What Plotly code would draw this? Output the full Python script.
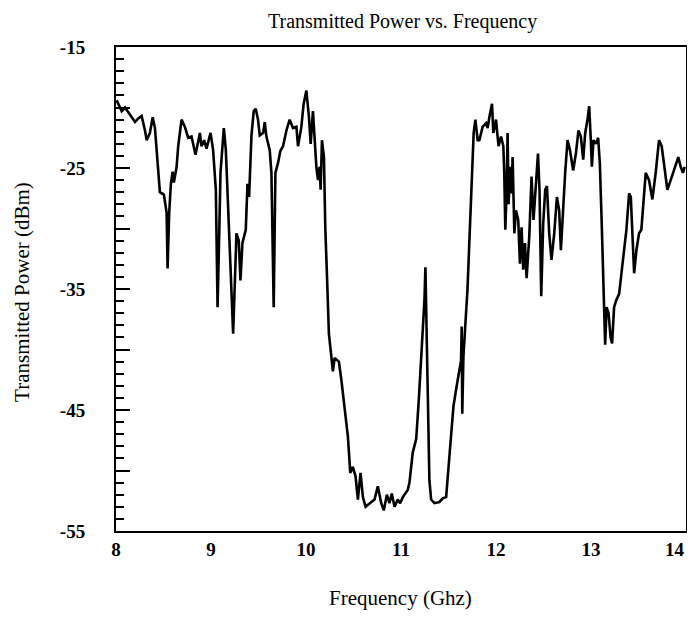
import plotly.graph_objects as go

# Frequency (GHz) and transmitted power (dBm)
freq_ghz = [
    8.007, 8.060, 8.095, 8.147, 8.200, 8.234, 8.270, 8.305, 8.323, 8.357,
    8.386, 8.410, 8.444, 8.462, 8.504, 8.533, 8.543, 8.560, 8.578, 8.596,
    8.609, 8.638, 8.655, 8.690, 8.725, 8.760, 8.795, 8.812, 8.837, 8.883,
    8.900, 8.928, 8.953, 8.995, 9.022, 9.051, 9.069, 9.085, 9.100, 9.135,
    9.156, 9.180, 9.208, 9.233, 9.268, 9.292, 9.310, 9.331, 9.366, 9.384,
    9.401, 9.426, 9.450, 9.471, 9.495, 9.513, 9.548, 9.566, 9.583, 9.618,
    9.636, 9.660, 9.678, 9.705, 9.730, 9.758, 9.794, 9.828, 9.863, 9.899, 9.916,
    9.951, 9.975, 10.004, 10.031, 10.049, 10.073, 10.091, 10.109, 10.126, 10.144,
    10.154, 10.168, 10.189, 10.203, 10.220, 10.241, 10.267, 10.283, 10.301, 10.346,
    10.372, 10.406, 10.441, 10.466, 10.493, 10.522, 10.546, 10.574, 10.599, 10.627,
    10.669, 10.721, 10.756, 10.792, 10.819, 10.851, 10.879, 10.903, 10.932, 10.966,
    10.991, 11.019, 11.071, 11.089, 11.124, 11.160, 11.187, 11.212, 11.229, 11.247,
    11.257, 11.271, 11.281, 11.299, 11.317, 11.352, 11.404, 11.439, 11.475, 11.492,
    11.527, 11.552, 11.580, 11.607, 11.632, 11.639, 11.645, 11.657, 11.678, 11.700,
    11.720, 11.738, 11.752, 11.765, 11.783, 11.807, 11.825, 11.859, 11.895, 11.912,
    11.930, 11.958, 11.972, 12.000, 12.017, 12.027, 12.053, 12.077, 12.087, 12.098,
    12.112, 12.122, 12.133, 12.147, 12.164, 12.175, 12.193, 12.210, 12.234, 12.252,
    12.269, 12.287, 12.305, 12.322, 12.350, 12.374, 12.395, 12.421, 12.442, 12.458,
    12.476, 12.497, 12.518, 12.536, 12.560, 12.584, 12.613, 12.641, 12.665, 12.683,
    12.707, 12.728, 12.753, 12.778, 12.812, 12.841, 12.868, 12.893, 12.918, 12.939,
    12.963, 12.981, 12.998, 13.009, 13.026, 13.051, 13.075, 13.093, 13.114, 13.131,
    13.149, 13.164, 13.185, 13.206, 13.222, 13.243, 13.267, 13.296, 13.324, 13.348,
    13.373, 13.401, 13.419, 13.443, 13.454, 13.478, 13.506, 13.530, 13.551, 13.576,
    13.611, 13.646, 13.681, 13.716, 13.744, 13.769, 13.804, 13.839, 13.874, 13.919,
    13.944, 13.968, 13.986,
]

power_dbm = [
    -19.4, -20.3, -20.0, -20.6, -21.2, -20.9, -20.7, -21.9, -22.7, -22.1,
    -20.8, -21.7, -24.9, -27.0, -27.2, -28.7, -33.3, -28.7, -26.3, -25.3,
    -26.2, -24.9, -23.2, -21.0, -21.6, -22.5, -22.4, -23.1, -23.9, -22.1,
    -23.2, -22.7, -23.4, -22.1, -23.5, -26.8, -36.5, -31.0, -25.4, -21.7,
    -23.5, -28.2, -33.7, -38.7, -30.4, -31.0, -34.3, -31.2, -30.1, -26.3,
    -27.4, -22.3, -20.3, -20.1, -21.0, -22.3, -22.1, -21.2, -22.4, -23.5,
    -25.4, -36.5, -25.4, -24.6, -23.6, -23.2, -21.9, -21.0, -21.7, -21.6, -23.2,
    -21.6, -19.7, -18.6, -20.8, -23.0, -20.3, -22.7, -24.9, -26.0, -24.9,
    -26.8, -22.7, -24.1, -29.9, -33.7, -38.7, -40.6, -41.8, -40.7, -41.0,
    -42.5, -44.7, -47.2, -50.2, -49.7, -50.5, -52.4, -50.2, -52.2, -53.0,
    -52.7, -52.4, -51.3, -52.7, -53.3, -52.0, -52.7, -51.9, -53.0, -52.4,
    -52.7, -52.2, -51.6, -51.0, -48.5, -47.4, -44.2, -40.9, -38.1, -35.9,
    -33.2, -38.6, -44.2, -50.8, -52.4, -52.7, -52.6, -52.3, -52.2, -50.5,
    -47.4, -44.7, -43.3, -42.2, -40.9, -38.1, -45.3, -40.6, -38.0, -35.0,
    -31.0, -27.5, -24.5, -22.1, -21.0, -22.7, -22.7, -21.6, -21.3, -21.7,
    -20.8, -19.7, -22.1, -21.0, -22.4, -23.2, -22.4, -23.2, -25.4, -30.1,
    -26.8, -22.1, -28.0, -24.9, -27.1, -24.1, -30.4, -28.5, -29.3, -32.9,
    -29.9, -33.4, -31.2, -34.1, -30.7, -25.7, -29.3, -26.3, -23.8, -26.8,
    -35.6, -29.6, -26.8, -26.5, -30.4, -32.6, -30.4, -27.4, -28.5, -31.8,
    -28.0, -25.4, -22.7, -23.5, -25.2, -23.8, -21.9, -22.4, -24.3, -22.1,
    -21.0, -19.9, -22.7, -24.9, -22.7, -23.0, -22.5, -24.6, -29.9, -35.4,
    -39.6, -36.5, -37.0, -39.0, -39.5, -36.5, -35.9, -35.4, -33.2, -31.8,
    -30.1, -27.1, -27.4, -31.0, -33.7, -31.8, -30.4, -30.1, -27.6, -25.4,
    -26.0, -27.6, -25.4, -22.7, -23.2, -24.9, -26.8, -26.0, -25.2, -24.1,
    -24.9, -25.4, -24.9,
]

x_ticks = [8, 9, 10, 11, 12, 13, 14]
x_tick_text = ["8", "9", "10", "11", "12", "13", ""]  # last label drawn at the edge below
x_last_label = "14"
y_ticks = [-55, -50, -45, -40, -35, -30, -25, -20, -15]
y_tick_text = ["-55", "", "-45", "", "-35", "", "-25", "", "-15"]

chart_title = "Transmitted Power vs. Frequency"
x_title = "Frequency (Ghz)"
y_title = "Transmitted Power (dBm)"

serif = "Liberation Serif, Times New Roman, serif"

fig = go.Figure()
fig.add_trace(go.Scatter(
    x=freq_ghz, y=power_dbm, mode="lines",
    line=dict(color="black", width=2.6),
    hoverinfo="x+y", showlegend=False,
))

fig.update_layout(
    width=679, height=603,
    margin=dict(l=108, r=1, t=39, b=80, autoexpand=False),
    paper_bgcolor="white", plot_bgcolor="white",
    xaxis=dict(
        range=[8, 14], tickvals=x_ticks, ticktext=x_tick_text, ticks="",
        showline=True, linecolor="black", linewidth=2, mirror=True,
        showgrid=False, zeroline=False, automargin=False,
        tickfont=dict(family=serif, size=19, color="black", weight="bold"),
        ticklabelstandoff=0,
    ),
    yaxis=dict(
        range=[-55, -15], tickvals=y_ticks, ticktext=y_tick_text,
        ticks="inside", ticklen=14, tickwidth=1.5, tickcolor="black",
        minor=dict(dtick=1, tick0=-55, ticks="inside", ticklen=8,
                   tickwidth=1.5, tickcolor="black", showgrid=False),
        showline=True, linecolor="black", linewidth=2, mirror=True,
        showgrid=False, zeroline=False, automargin=False,
        tickfont=dict(family=serif, size=19, color="black", weight="bold"),
        ticklabelstandoff=25,
    ),
    annotations=[
        dict(text=chart_title, xref="paper", yref="paper", x=0.503, y=1,
             yshift=26, xanchor="center", yanchor="middle", showarrow=False,
             font=dict(family=serif, size=20, color="black")),
        dict(text=x_title, xref="paper", yref="paper", x=0.499, y=0,
             yshift=-67, xanchor="center", yanchor="middle", showarrow=False,
             font=dict(family=serif, size=21, color="black")),
        dict(text=y_title, xref="paper", yref="paper", x=0, y=0.494,
             xshift=-94, xanchor="center", yanchor="middle", showarrow=False,
             textangle=-90,
             font=dict(family=serif, size=21, color="black")),
        dict(text=x_last_label, xref="x", yref="paper", x=x_ticks[-1], y=0,
             xanchor="right", yanchor="top", xshift=1, yshift=-6,
             showarrow=False,
             font=dict(family=serif, size=19, color="black", weight="bold")),
    ],
)

fig.write_html("out.html")
